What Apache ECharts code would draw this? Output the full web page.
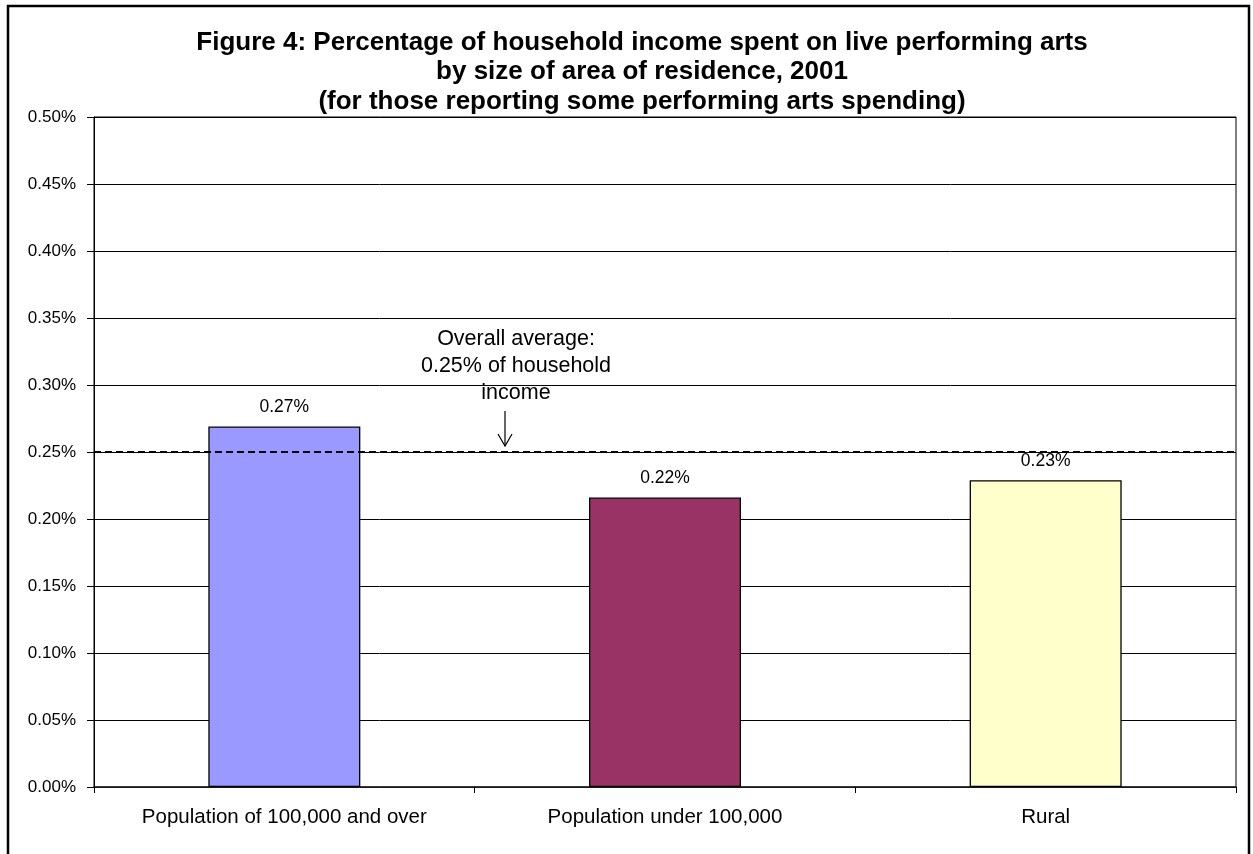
<!DOCTYPE html>
<html>
<head>
<meta charset="utf-8">
<script src="https://cdn.jsdelivr.net/npm/echarts@6/dist/echarts.min.js"></script>
<style>
  html, body { margin: 0; padding: 0; background: #fff; }
  #main { width: 1253px; height: 854px; }
</style>
</head>
<body>
<div id="main"></div>
<script>
// data
var categories = ['Population of 100,000 and over', 'Population under 100,000', 'Rural'];
var values = [0.269, 0.216, 0.229];
var labels = ['0.27%', '0.22%', '0.23%'];
var barColors = ['#9999FF', '#993366', '#FFFFCC'];
var overallAverage = 0.2515;
var noteLines = ['Overall average:', '0.25% of household', 'income'];

var font = 'Liberation Sans, Arial, sans-serif';
var chart = echarts.init(document.getElementById('main'));

var option = {
  animation: false,
  title: {
    text: 'Figure 4: Percentage of household income spent on live performing arts\nby size of area of residence, 2001\n(for those reporting some performing arts spending)',
    left: 637,
    textAlign: 'center',
    top: 23,
    textStyle: {
      fontFamily: font,
      fontWeight: 'bold',
      fontSize: 26,
      lineHeight: 29.5,
      color: '#000'
    }
  },
  grid: { left: 94, right: 17, top: 117, bottom: 67, show: true, borderColor: '#000', borderWidth: 1, backgroundColor: '#fff' },
  xAxis: {
    type: 'category',
    data: categories,
    axisLine: { lineStyle: { color: '#222', width: 1.5 } },
    axisTick: { show: true, length: 6, lineStyle: { color: '#000' } },
    axisLabel: {
      margin: 20,
      fontFamily: font,
      fontSize: 20.5,
      color: '#000'
    }
  },
  yAxis: {
    type: 'value',
    min: 0,
    max: 0.5,
    interval: 0.05,
    axisLine: { show: true, lineStyle: { color: '#000' } },
    axisTick: { show: true, length: 7, lineStyle: { color: '#000' } },
    splitLine: { lineStyle: { color: '#000', width: 1 } },
    axisLabel: {
      margin: 18,
      fontFamily: font,
      fontSize: 17,
      color: '#000',
      formatter: function (v) { return v.toFixed(2) + '%'; }
    }
  },
  series: [{
    type: 'bar',
    barWidth: 152,
    data: values.map(function (v, i) {
      return { value: v, itemStyle: { color: barColors[i] } };
    }),
    itemStyle: { borderColor: '#000', borderWidth: 1.3 },
    label: {
      show: true,
      position: 'top',
      distance: 10,
      fontFamily: font,
      fontSize: 17.5,
      color: '#000',
      formatter: function (p) { return labels[p.dataIndex]; }
    },
    markLine: {
      silent: true,
      symbol: 'none',
      label: { show: false },
      lineStyle: { color: '#000', type: [7, 4], width: 2 },
      data: [{ yAxis: overallAverage }]
    },
    z: 3
  }]
};
chart.setOption(option);

// annotation above the average line
var avgY = chart.convertToPixel({ yAxisIndex: 0 }, overallAverage);
var arrowX = 505;
chart.setOption({
  graphic: [
    {
      type: 'rect',
      shape: { x: 8, y: 6, width: 1241, height: 870 },
      style: { fill: 'none', stroke: '#000', lineWidth: 2.5 },
      silent: true
    },
    {
      type: 'text',
      x: 516,
      y: avgY - 124,
      style: {
        text: noteLines.join('\n'),
        textAlign: 'center',
        fontFamily: font,
        fontSize: 21.5,
        lineHeight: 27,
        fill: '#000'
      },
      z: 10
    },
    {
      type: 'line',
      shape: { x1: arrowX, y1: avgY - 39, x2: arrowX, y2: avgY - 4 },
      style: { stroke: '#000', lineWidth: 1.2 },
      z: 10
    },
    {
      type: 'polyline',
      shape: { points: [[arrowX - 7, avgY - 16], [arrowX, avgY - 4], [arrowX + 7, avgY - 16]] },
      style: { stroke: '#000', fill: 'none', lineWidth: 1.2 },
      z: 10
    }
  ]
});
</script>
</body>
</html>
